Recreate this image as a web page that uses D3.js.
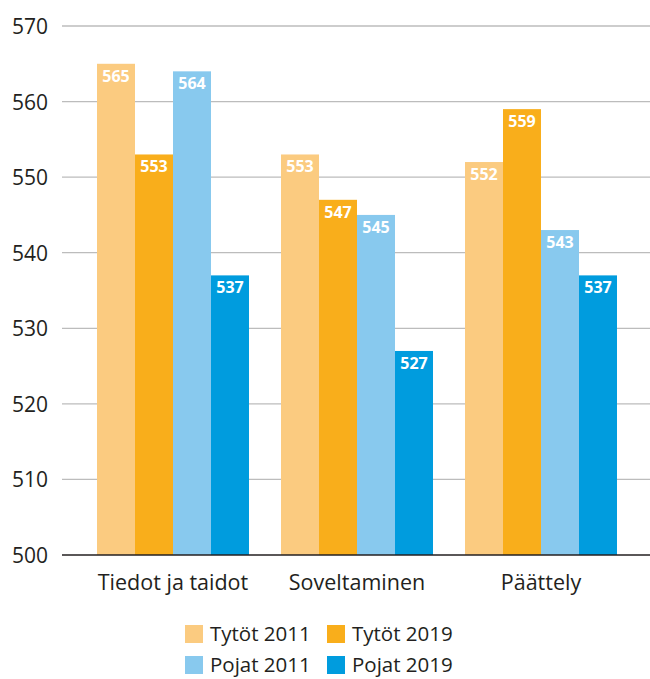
<!DOCTYPE html>
<html>
<head>
<meta charset="utf-8">
<script src="https://cdn.jsdelivr.net/npm/d3@7"></script>
<style>
  body { margin: 0; background: #fff; }
  svg { display: block; font-family: "Open Sans", "Noto Sans", sans-serif; }
</style>
</head>
<body>
<svg id="chart" width="650" height="679"></svg>
<script>
// Osa-alueet ja sarjat
const categories = ["Tiedot ja taidot", "Soveltaminen", "Päättely"];
const seriesNames = ["Tytöt 2011", "Tytöt 2019", "Pojat 2011", "Pojat 2019"];
const seriesColors = ["#FBCB80", "#F9AE1B", "#88C9EE", "#009CDE"];
const tytot2011 = [565, 553, 552];
const tytot2019 = [553, 547, 559];
const pojat2011 = [564, 545, 543];
const pojat2019 = [537, 527, 537];
const yTicks = [500, 510, 520, 530, 540, 550, 560, 570];

const seriesValues = [tytot2011, tytot2019, pojat2011, pojat2019];

const svg = d3.select("#chart");

const x0 = d3.scaleBand()
  .domain(categories)
  .range([81, 633])
  .paddingInner(32 / 184)
  .paddingOuter(16 / 184);

const x1 = d3.scaleBand()
  .domain(seriesNames)
  .range([0, x0.bandwidth()]);

const y = d3.scaleLinear()
  .domain([500, 570])
  .range([555, 26]);

const color = d3.scaleOrdinal().domain(seriesNames).range(seriesColors);

// Vaakasuorat apuviivat
svg.append("g")
  .selectAll("line")
  .data(yTicks.filter(t => t !== 500))
  .join("line")
  .attr("x1", 62).attr("x2", 650)
  .attr("y1", d => y(d)).attr("y2", d => y(d))
  .attr("stroke", "#bcbcbc")
  .attr("stroke-width", 1.3);

// Y-akselin arvot
const yAxis = d3.axisLeft(y).tickValues(yTicks).tickSize(0).tickPadding(0);
const gy = svg.append("g").attr("transform", "translate(48,0)").call(yAxis);
gy.select(".domain").remove();
gy.selectAll("text")
  .attr("font-size", 21)
  .attr("fill", "#231f20")
  .attr("font-family", "'Open Sans', sans-serif")
  .attr("dy", "0.36em");

// Pylväät
const groups = svg.append("g")
  .selectAll("g")
  .data(categories)
  .join("g")
  .attr("transform", d => `translate(${x0(d)},0)`);

const cells = groups.selectAll("g")
  .data((c, ci) => seriesNames.map((s, si) => ({ s, v: seriesValues[si][ci] })))
  .join("g");

cells.append("rect")
  .attr("x", d => x1(d.s))
  .attr("y", d => y(d.v))
  .attr("width", x1.bandwidth())
  .attr("height", d => y(500) - y(d.v))
  .attr("fill", d => color(d.s));

cells.append("text")
  .attr("x", d => x1(d.s) + x1.bandwidth() / 2)
  .attr("y", d => y(d.v) + 18)
  .attr("text-anchor", "middle")
  .attr("fill", "#fff")
  .attr("font-size", 16)
  .attr("font-weight", 700)
  .text(d => d.v);

// Perusviiva
svg.append("line")
  .attr("x1", 62).attr("x2", 650)
  .attr("y1", y(500)).attr("y2", y(500))
  .attr("stroke", "#231f20")
  .attr("stroke-width", 1.3);

// X-akselin luokat
const xAxis = d3.axisBottom(x0).tickSize(0).tickPadding(0);
const gx = svg.append("g").attr("transform", `translate(0,${y(500)})`).call(xAxis);
gx.select(".domain").remove();
gx.selectAll("text")
  .attr("font-size", 21.5)
  .attr("fill", "#231f20")
  .attr("font-family", "'Open Sans', sans-serif")
  .attr("dy", 0)
  .attr("y", 35);

// Selite
const legendPos = [[185, 625], [327, 625], [185, 656], [327, 656]];
const legend = svg.append("g")
  .selectAll("g")
  .data(seriesNames)
  .join("g")
  .attr("transform", (d, i) => `translate(${legendPos[i][0]},${legendPos[i][1]})`);

legend.append("rect")
  .attr("width", 18).attr("height", 18)
  .attr("fill", d => color(d));

legend.append("text")
  .attr("x", 25).attr("y", 16)
  .attr("font-size", 20.5)
  .attr("fill", "#231f20")
  .text(d => d);
</script>
</body>
</html>
